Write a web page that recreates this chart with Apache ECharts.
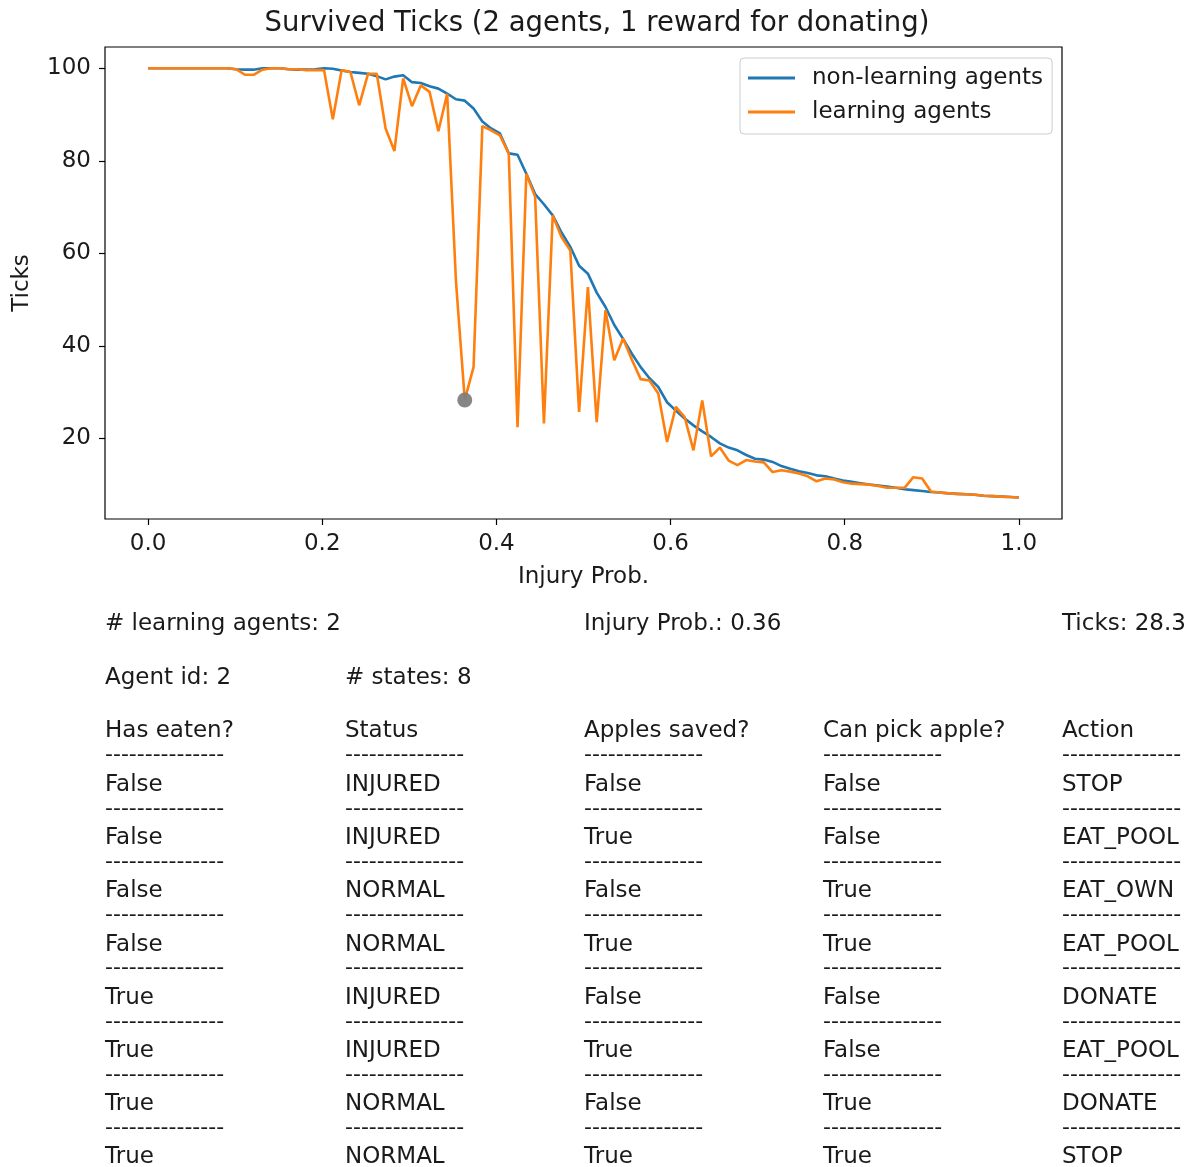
<!DOCTYPE html>
<html>
<head>
<meta charset="utf-8">
<script src="https://cdn.jsdelivr.net/npm/echarts@6/dist/echarts.min.js"></script>
<style>
  html, body { margin: 0; padding: 0; background: #fff; }
  #main { width: 1194px; height: 1167px; }
</style>
</head>
<body>
<div id="main"></div>
<script>
// ---------------- data ----------------
var nonLearning = [
  100, 100, 100, 100, 100, 100, 100, 100, 100, 100,
  99.8, 99.7, 99.7, 100, 100, 100, 99.8, 99.7, 99.7, 99.8,
  100, 99.9, 99.5, 99.2, 99.0, 98.8, 98.3, 97.6, 98.2, 98.5,
  97.0, 96.8, 96.1, 95.6, 94.5, 93.3, 93.0, 91.3, 88.5, 87.0,
  85.9, 81.6, 81.3, 77.2, 72.8, 70.6, 68.2, 64.5, 61.4, 57.3,
  55.6, 51.5, 48.4, 44.5, 41.5, 38.3, 35.4, 33.0, 31.1, 27.8,
  26.0, 24.3, 22.8, 21.5, 20.3, 18.9, 18.0, 17.4, 16.4, 15.6,
  15.4, 14.9, 14.0, 13.4, 12.9, 12.5, 12.0, 11.8, 11.3, 10.9,
  10.6, 10.3, 10.0, 9.8, 9.6, 9.3, 9.0, 8.8, 8.6, 8.4,
  8.3, 8.1, 8.0, 7.9, 7.8, 7.6, 7.5, 7.4, 7.3, 7.2
];
var learning = [
  100, 100, 100, 100, 100, 100, 100, 100, 100, 100,
  99.8, 98.6, 98.6, 99.7, 100, 100, 99.8, 99.8, 99.6, 99.6,
  99.6, 89.0, 99.6, 99.2, 92.0, 98.8, 98.8, 87.0, 82.1, 97.8,
  91.8, 96.3, 94.9, 86.4, 94.5, 54.0, 28.3, 35.4, 87.5, 86.6,
  85.5, 81.6, 22.4, 77.2, 72.2, 23.2, 68.2, 63.5, 60.6, 25.7,
  52.7, 23.5, 47.7, 36.9, 41.6, 37.0, 32.8, 32.5, 29.7, 19.2,
  26.8, 24.6, 17.4, 28.2, 16.1, 18.0, 15.2, 14.2, 15.3, 15.0,
  14.8, 12.7, 13.1, 12.8, 12.4, 11.8, 10.7, 11.3, 11.1, 10.5,
  10.2, 10.1, 10.0, 9.7, 9.3, 9.3, 9.3, 11.6, 11.3, 8.5,
  8.3, 8.1, 8.0, 7.9, 7.8, 7.6, 7.5, 7.4, 7.3, 7.2
];
// injury probability grid: 100 evenly spaced samples on [0, 1]
var injuryProb = nonLearning.map(function (v, i) { return i / 99; });
var selectedIndex = 36;

var xTicks = [0, 0.2, 0.4, 0.6, 0.8, 1.0];
var yTicks = [20, 40, 60, 80, 100];

var infoLine1 = ['# learning agents: 2', 'Injury Prob.: 0.36', 'Ticks: 28.3'];
var infoLine2 = ['Agent id: 2', '# states: 8'];

var headers = ['Has eaten?', 'Status', 'Apples saved?', 'Can pick apple?', 'Action'];
var hasEaten = ['False', 'False', 'False', 'False', 'True', 'True', 'True', 'True'];
var agentStatus = ['INJURED', 'INJURED', 'NORMAL', 'NORMAL', 'INJURED', 'INJURED', 'NORMAL', 'NORMAL'];
var applesSaved = ['False', 'True', 'False', 'True', 'False', 'True', 'False', 'True'];
var canPick = ['False', 'False', 'True', 'True', 'False', 'False', 'True', 'True'];
var action = ['STOP', 'EAT_POOL', 'EAT_OWN', 'EAT_POOL', 'DONATE', 'EAT_POOL', 'DONATE', 'STOP'];

// ---------------- layout ----------------
var FONT = 'DejaVu Sans';
var TXT = '#1a1a1a';
var FS = 23;
var colX = [105, 345, 584, 823, 1062];
var dashes = '---------------';

function txt(s, x, y, size) {
  return {
    type: 'text', x: x, y: y, silent: true,
    style: { text: s, fill: TXT, fontFamily: FONT, fontSize: size || FS, verticalAlign: 'middle', align: 'left' }
  };
}

var graphics = [];
graphics.push(txt(infoLine1[0], colX[0], 624));
graphics.push(txt(infoLine1[1], colX[2], 624));
graphics.push(txt(infoLine1[2], colX[4], 624));
graphics.push(txt(infoLine2[0], colX[0], 678));
graphics.push(txt(infoLine2[1], colX[1], 678));

var columns = [hasEaten, agentStatus, applesSaved, canPick, action];
headers.forEach(function (h, c) {
  graphics.push(txt(h, colX[c], 731));
  graphics.push(txt(dashes, colX[c], 755, 22));
});
for (var r = 0; r < hasEaten.length; r++) {
  var y = 785 + r * 53.2;
  for (var c = 0; c < columns.length; c++) {
    graphics.push(txt(columns[c][r], colX[c], y));
    if (r < hasEaten.length - 1) graphics.push(txt(dashes, colX[c], y + 24, 22));
  }
}

var chart = echarts.init(document.getElementById('main'));
var option = {
  backgroundColor: '#fff',
  animation: false,
  title: {
    text: 'Survived Ticks (2 agents, 1 reward for donating)',
    left: 'center', top: 5,
    textStyle: { fontFamily: FONT, fontSize: 27.5, fontWeight: 'normal', color: TXT }
  },
  legend: {
    orient: 'vertical',
    left: 740, top: 58,
    padding: [8, 9, 10, 8],
    itemGap: 10,
    itemWidth: 47, itemHeight: 3,
    icon: 'rect',
    backgroundColor: '#fff',
    borderColor: '#cccccc', borderWidth: 1, borderRadius: 4,
    textStyle: { fontFamily: FONT, fontSize: FS, color: TXT, lineHeight: 24, padding: [0, 0, 0, 12] },
    data: ['non-learning agents', 'learning agents']
  },
  grid: {
    left: 105, top: 47, width: 957, height: 472,
    show: true, borderColor: '#000', borderWidth: 1.2, backgroundColor: 'transparent'
  },
  xAxis: {
    type: 'value',
    min: -0.0495, max: 1.0495,
    name: 'Injury Prob.',
    nameLocation: 'middle', nameGap: 47,
    nameTextStyle: { fontFamily: FONT, fontSize: FS, color: TXT },
    axisLine: { show: false, onZero: false },
    axisTick: { show: true, length: 6, lineStyle: { color: '#000', width: 1.2 }, customValues: xTicks },
    axisLabel: {
      customValues: xTicks, margin: 14,
      fontFamily: FONT, fontSize: FS, color: TXT,
      formatter: function (v) { return v.toFixed(1); }
    },
    splitLine: { show: false }
  },
  yAxis: {
    type: 'value',
    min: 2.56, max: 104.6,
    name: 'Ticks',
    nameLocation: 'middle', nameGap: 71, nameRotate: 90,
    nameTextStyle: { fontFamily: FONT, fontSize: FS, color: TXT },
    axisLine: { show: false, onZero: false },
    axisTick: { show: true, length: 6, lineStyle: { color: '#000', width: 1.2 }, customValues: yTicks },
    axisLabel: {
      customValues: yTicks, margin: 14,
      fontFamily: FONT, fontSize: FS, color: TXT
    },
    splitLine: { show: false }
  },
  series: [
    {
      name: 'non-learning agents',
      type: 'line',
      data: injuryProb.map(function (x, i) { return [x, nonLearning[i]]; }),
      symbol: 'none',
      lineStyle: { color: '#1f77b4', width: 2.6 },
      itemStyle: { color: '#1f77b4' },
      z: 2
    },
    {
      name: 'learning agents',
      type: 'line',
      data: injuryProb.map(function (x, i) { return [x, learning[i]]; }),
      symbol: 'none',
      lineStyle: { color: '#ff7f0e', width: 2.6 },
      itemStyle: { color: '#ff7f0e' },
      z: 3
    },
    {
      name: 'selected',
      type: 'scatter',
      data: [[injuryProb[selectedIndex], learning[selectedIndex]]],
      symbolSize: 15,
      itemStyle: { color: '#7f7f7f', opacity: 0.95 },
      z: 4
    }
  ],
  graphic: graphics
};
chart.setOption(option);
window.addEventListener('resize', function () { chart.resize(); });
</script>
</body>
</html>
